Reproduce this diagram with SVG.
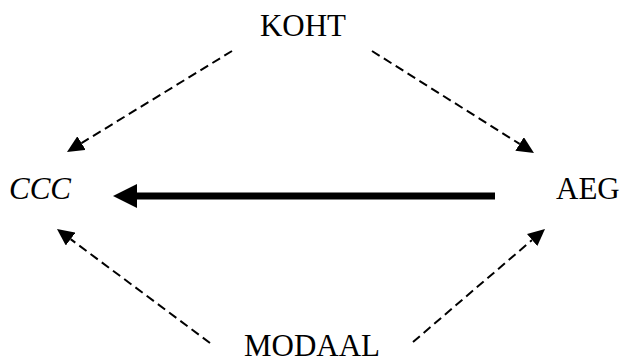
<svg xmlns="http://www.w3.org/2000/svg" width="620" height="364" viewBox="0 0 620 364">
<style>
.lbl{font-family:"Liberation Serif","Times New Roman",serif;font-size:31px;fill:#000}
.dash{stroke:#000;stroke-width:2;stroke-dasharray:9 5;fill:none}
</style>
<defs>
<marker id="ah" markerUnits="userSpaceOnUse" viewBox="0 -8 17 16" markerWidth="17" markerHeight="16" refX="0" refY="0" orient="auto">
<path d="M0,-8 L17,0 L0,8 z" fill="#000"/>
</marker>
</defs>
<rect width="620" height="364" fill="#fff"/>
<g id="connectors">
<line class="dash" x1="232" y1="51" x2="81.5" y2="143.1" marker-end="url(#ah)"/>
<line class="dash" x1="372" y1="51" x2="519.6" y2="143.9" marker-end="url(#ah)"/>
<line class="dash" x1="210" y1="343" x2="70.6" y2="239.1" marker-end="url(#ah)"/>
<line class="dash" x1="413" y1="342" x2="532.1" y2="240" marker-end="url(#ah)"/>
<line x1="495" y1="196" x2="136" y2="196" stroke="#000" stroke-width="7"/>
<polygon points="113,196 137,184 137,208" fill="#000"/>
</g>
<g id="koht"><text class="lbl" x="303" y="36" text-anchor="middle">KOHT</text></g>
<g id="ccc"><text class="lbl" x="9" y="199" font-style="italic">CCC</text></g>
<g id="aeg"><text class="lbl" x="556" y="199">AEG</text></g>
<g id="modaal"><text class="lbl" x="312" y="356" text-anchor="middle">MODAAL</text></g>
</svg>
